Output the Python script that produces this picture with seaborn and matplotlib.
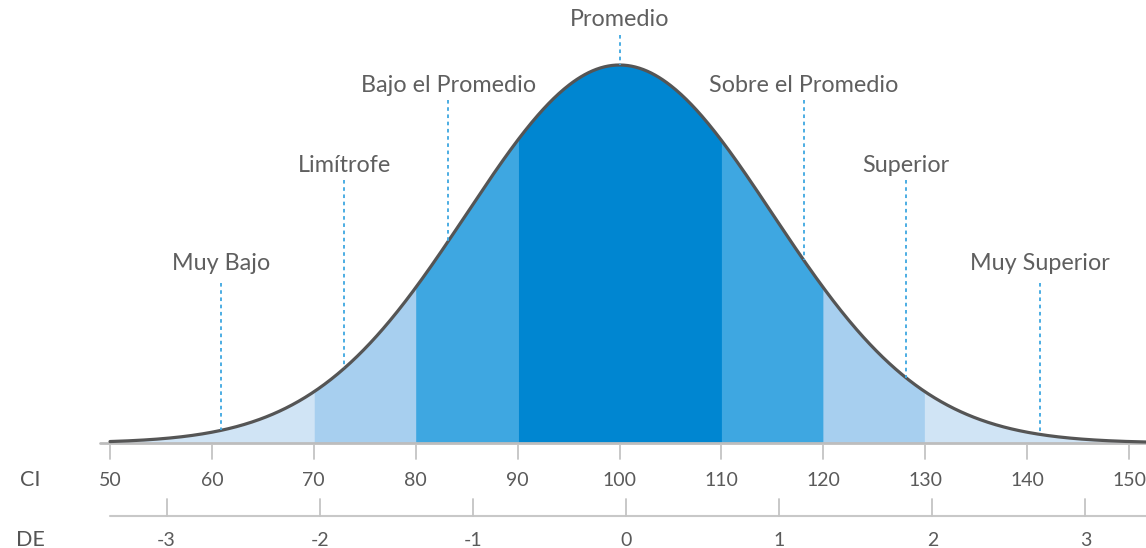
import numpy as np
import pandas as pd
import matplotlib
matplotlib.use("Agg")
import matplotlib.pyplot as plt
import seaborn as sns

# datos de la curva (CI: media 100, desviacion 15)
ci_mean = 100
ci_sd = 15
ci_ticks = [50, 60, 70, 80, 90, 100, 110, 120, 130, 140, 150]
de_ticks = [-3, -2, -1, 0, 1, 2, 3]

# bandas de color (limites en CI), se pintan una encima de otra
band_edges = [(50, 152), (70, 130), (80, 120), (90, 110)]
band_colors = ["#d0e4f5", "#a7cfef", "#3ea7e1", "#0086d1"]

# categorias y su posicion en CI
categorias = ["Muy Bajo", "Limítrofe", "Bajo el Promedio", "Promedio",
              "Sobre el Promedio", "Superior", "Muy Superior"]
cat_ci = [60.9, 73.0, 83.2, 100, 118.1, 128.1, 141.3]
cat_level = [3, 2, 1, 0, 1, 2, 3]  # 0 = arriba del todo

sns.set_style("white")
plt.rcParams['font.family'] = ['Lato', 'DejaVu Sans']

W, H = 1146, 548
fig = plt.figure(figsize=(W / 100, H / 100), dpi=100)
ax = fig.add_axes([0, 0, 1, 1])

# conversion pixel -> datos
px_per_ci = 10.19
x0_px = 110
base_px = 443
peak_px = 65
scale = base_px - peak_px


def xv(px):
    return 50 + (px - x0_px) / px_per_ci


def yv(py):
    return (base_px - py) / scale


ax.set_xlim(xv(0), xv(W))
ax.set_ylim(yv(H), yv(0))
ax.axis("off")

ci = np.linspace(50, 152, 800)
dens = np.exp(-0.5 * ((ci - ci_mean) / ci_sd) ** 2)
df = pd.DataFrame({"CI": ci, "dens": dens})

for (a, b), col in zip(band_edges, band_colors):
    m = (ci >= a) & (ci <= b)
    ax.fill_between(ci[m], 0, dens[m], color=col, linewidth=0)

# linea base
ax.plot([xv(100), xv(W)], [0, 0], color="#bdbdbd", lw=2, zorder=2)

sns.lineplot(data=df, x="CI", y="dens", color="#555555", lw=2.3, ax=ax, zorder=4)

# eje CI
for t in ci_ticks:
    ax.plot([t, t], [yv(445), yv(459)], color="#c4c4c4", lw=1.3)
    ax.text(t, yv(480), str(t), ha="center", va="center", fontsize=14, color="#5a5a5a")
ax.text(xv(30), yv(480), "CI", ha="center", va="center", fontsize=15.5, color="#555555")

# eje DE
de_zero = 100.64
de_step = 15.03
ax.plot([xv(110), xv(W)], [yv(516), yv(516)], color="#c8c8c8", lw=1.5)
for d in de_ticks:
    x = de_zero + d * de_step
    ax.plot([x, x], [yv(499), yv(516)], color="#c4c4c4", lw=1.3)
    ax.text(x, yv(540), str(d), ha="center", va="center", fontsize=14, color="#5a5a5a")
ax.text(xv(30), yv(540), "DE", ha="center", va="center", fontsize=15.5, color="#555555")

# etiquetas y lineas punteadas
text_px = [20, 85, 165, 263]
line_top_px = [35, 100, 180, 283]
for name, x, lev in zip(categorias, cat_ci, cat_level):
    yc = np.exp(-0.5 * ((x - ci_mean) / ci_sd) ** 2)
    ax.plot([x, x], [yv(line_top_px[lev]), yc], color="#3ea7e1", lw=1.3,
            ls=(0, (2, 2)), zorder=5)
    ax.text(x, yv(text_px[lev]), name, ha="center", va="center",
            fontsize=16.8, color="#5f5f5f")

fig.savefig("out.png", dpi=100)
